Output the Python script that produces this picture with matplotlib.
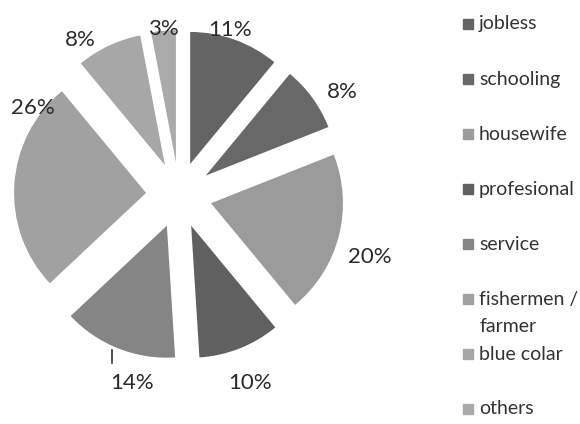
import numpy as np
import matplotlib
matplotlib.use('Agg')
import matplotlib.pyplot as plt
from matplotlib.patches import Rectangle

# occupation shares (%)
labels = ['jobless', 'schooling', 'housewife', 'profesional', 'service',
          'fishermen /\nfarmer', 'blue colar', 'others']
values = [11, 8, 20, 10, 14, 26, 8, 3]
colors = ['#646464', '#686868', '#9b9b9b', '#606060', '#858585',
          '#a1a1a1', '#a7a7a7', '#aaaaaa']

# percent label placement: distance from pie centre and angle shift (deg)
label_d = [1.31, 1.46, 1.52, 1.52, 1.47, 1.29, 1.39, 1.26]
label_shift = [2.6, -3.7, -3.6, -0.9, 7.6, -27.2, 7.4, 0.1]

plt.rcParams['font.family'] = ['Lato', 'DejaVu Sans']

W, H = 580, 424
fig = plt.figure(figsize=(W / 100, H / 100), dpi=100)

# pie of radius 1 centred at pixel (179, 195), radius ~132 px
R = 132
cx, cy = 179, H - 195
ax = fig.add_axes([0, 0, 1, 1])
ax.set_aspect('equal')
ax.axis('off')

expl = 0.25
wedges, _ = ax.pie(values, colors=colors, startangle=90, counterclock=False,
                   explode=[expl] * len(values), radius=1,
                   wedgeprops=dict(linewidth=0))
ax.set_xlim(-cx / R, (W - cx) / R)
ax.set_ylim(-cy / R, (H - cy) / R)

for w, v, d, sh in zip(wedges, values, label_d, label_shift):
    th = np.deg2rad((w.theta1 + w.theta2) / 2 + sh)
    x, y = d * np.cos(th), d * np.sin(th)
    ax.text(x, y, f'{v}%', ha='center', va='center', fontsize=16,
            color='#2a2a2a')
    if v == 14:
        # short leader line next to the service label
        ax.plot([x - 0.15, x - 0.15], [y + 0.15, y + 0.25], color='#333333',
                lw=1.2)

# legend
row_top = 24
row_step = 55
sq = 10
for i, (lab, c) in enumerate(zip(labels, colors)):
    yp = H - (row_top + i * row_step)
    fig.patches.append(Rectangle((463 / W, (yp - sq / 2) / H), sq / W, sq / H,
                                 transform=fig.transFigure, color=c))
    for k, line in enumerate(lab.split('\n')):
        fig.text(479 / W, (yp - k * 28) / H, line, ha='left',
                 va='center', fontsize=14, color='#333333')

fig.savefig('out.png', dpi=100, facecolor='white')
